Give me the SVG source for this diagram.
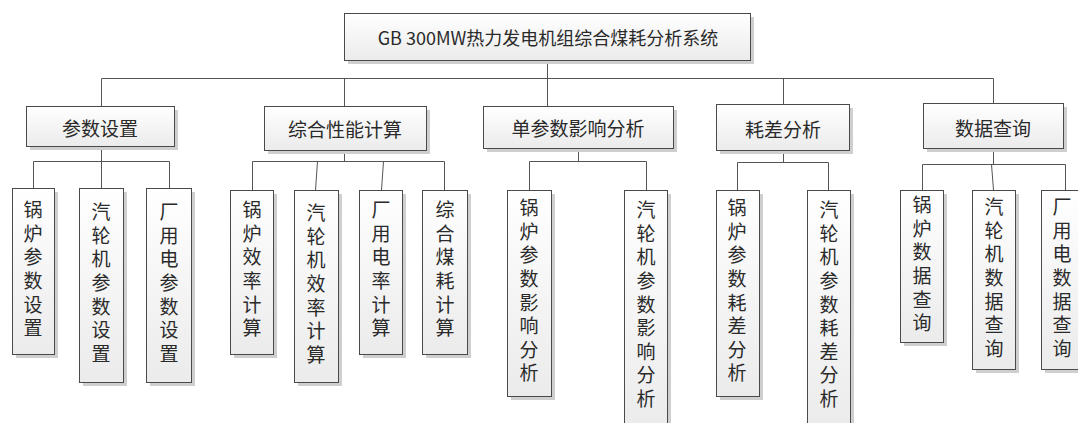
<svg xmlns="http://www.w3.org/2000/svg" width="1078" height="423" viewBox="0 0 1078 423">
<style>
.box{fill:url(#g);stroke:#4a4a4a;stroke-width:1}
.sh{fill:#cfcfcf}
.t{font-family:"Noto Sans CJK SC","Liberation Sans",sans-serif;fill:#2a2a2a;text-anchor:middle;dominant-baseline:central}
.t1{font-size:18px}
.t2{font-size:19px}
.v{font-family:"Noto Sans CJK SC","Liberation Sans",sans-serif;fill:#2a2a2a;font-size:19px;writing-mode:vertical-rl;text-anchor:start;letter-spacing:4.6px}
.c{fill:none;stroke:#555;stroke-width:1}
</style>
<defs>
<linearGradient id="g" x1="0" y1="0" x2="0" y2="1">
<stop offset="0" stop-color="#ffffff"/>
<stop offset="1" stop-color="#ebebeb"/>
</linearGradient>
</defs>
<rect width="1078" height="423" fill="#ffffff"/>
<g id="connectors">
<path class="c" d="M547.5 60V78.5M101.5 78.5H993.5M101.5 78.5V106M344.5 78.5V106M547.5 78.5V106M783.5 78.5V104M993.5 78.5V103"/>
<path class="c" d="M101.5 146V161.5M33.5 161.5H169.5M33.5 161.5V188M101.5 161.5V188M169.5 161.5V188"/>
<path class="c" d="M344.5 150V161.5M252.5 161.5H444.5M252.5 161.5V190M317.5 161.5L315.5 190M383.5 161.5L381.5 190M444.5 161.5V190"/>
<path class="c" d="M578.5 148V161.5M529.5 161.5H646.5M529.5 161.5V190M646.5 161.5V190"/>
<path class="c" d="M783.5 150V162.5M737.5 162.5H828.5M737.5 162.5V190M828.5 162.5V190"/>
<path class="c" d="M993.5 148V164.5M922.5 164.5H1065.5M922.5 164.5V190M991.5 164.5L993.5 190M1065.5 164.5V190"/>
</g>
<g id="root">
<rect class="sh" x="348" y="17" width="406" height="47"/>
<rect class="box" x="344.5" y="13.5" width="406" height="47"/>
<text class="t t1" x="548" y="37">GB 300MW热力发电机组综合煤耗分析系统</text>
</g>
<g id="n1">
<rect class="sh" x="30" y="110" width="148" height="40"/>
<rect class="box" x="26.5" y="106.5" width="148" height="40"/>
<text class="t t2" x="100" y="127">参数设置</text>
</g>
<g id="n2">
<rect class="sh" x="268" y="110" width="162" height="44"/>
<rect class="box" x="264.5" y="106.5" width="162" height="44"/>
<text class="t t2" x="345" y="128">综合性能计算</text>
</g>
<g id="n3">
<rect class="sh" x="487" y="110" width="190" height="42"/>
<rect class="box" x="483.5" y="106.5" width="190" height="42"/>
<text class="t t2" x="578" y="127">单参数影响分析</text>
</g>
<g id="n4">
<rect class="sh" x="720" y="108" width="133" height="46"/>
<rect class="box" x="716.5" y="104.5" width="133" height="46"/>
<text class="t t2" x="783" y="128">耗差分析</text>
</g>
<g id="n5">
<rect class="sh" x="927" y="107" width="140" height="45"/>
<rect class="box" x="923.5" y="103.5" width="140" height="45"/>
<text class="t t2" x="993" y="127">数据查询</text>
</g>
<g id="n1a">
<rect class="sh" x="16" y="192" width="42" height="166"/>
<rect class="box" x="12.5" y="188.5" width="42" height="166"/>
<text class="v" x="33" y="200.5">锅炉参数设置</text>
</g>
<g id="n1b">
<rect class="sh" x="83" y="192" width="44" height="194"/>
<rect class="box" x="79.5" y="188.5" width="44" height="194"/>
<text class="v" x="101" y="202.5">汽轮机参数设置</text>
</g>
<g id="n1c">
<rect class="sh" x="150" y="192" width="45" height="194"/>
<rect class="box" x="146.5" y="188.5" width="45" height="194"/>
<text class="v" x="169" y="202.5">厂用电参数设置</text>
</g>
<g id="n2a">
<rect class="sh" x="234" y="194" width="43" height="164"/>
<rect class="box" x="230.5" y="190.5" width="43" height="164"/>
<text class="v" x="252" y="200.5">锅炉效率计算</text>
</g>
<g id="n2b">
<rect class="sh" x="298" y="194" width="44" height="192"/>
<rect class="box" x="294.5" y="190.5" width="44" height="192"/>
<text class="v" x="316" y="203.5">汽轮机效率计算</text>
</g>
<g id="n2c">
<rect class="sh" x="363" y="194" width="43" height="164"/>
<rect class="box" x="359.5" y="190.5" width="43" height="164"/>
<text class="v" x="381" y="200.5">厂用电率计算</text>
</g>
<g id="n2d">
<rect class="sh" x="426" y="194" width="45" height="164"/>
<rect class="box" x="422.5" y="190.5" width="45" height="164"/>
<text class="v" x="445" y="200.5">综合煤耗计算</text>
</g>
<g id="n3a">
<rect class="sh" x="511" y="194" width="44" height="206"/>
<rect class="box" x="507.5" y="190.5" width="44" height="206"/>
<text class="v" x="529" y="198.5">锅炉参数影响分析</text>
</g>
<g id="n3b">
<rect class="sh" x="628" y="194" width="43" height="240"/>
<rect class="box" x="624.5" y="190.5" width="43" height="240"/>
<text class="v" x="646" y="200.5">汽轮机参数影响分析</text>
</g>
<g id="n4a">
<rect class="sh" x="720" y="194" width="43" height="206"/>
<rect class="box" x="716.5" y="190.5" width="43" height="206"/>
<text class="v" x="737" y="198.5">锅炉参数耗差分析</text>
</g>
<g id="n4b">
<rect class="sh" x="811" y="194" width="43" height="240"/>
<rect class="box" x="807.5" y="190.5" width="43" height="240"/>
<text class="v" x="829" y="200.5">汽轮机参数耗差分析</text>
</g>
<g id="n5a">
<rect class="sh" x="904" y="194" width="43" height="152"/>
<rect class="box" x="900.5" y="190.5" width="43" height="152"/>
<text class="v" x="922" y="195.5">锅炉数据查询</text>
</g>
<g id="n5b">
<rect class="sh" x="976" y="194" width="43" height="179"/>
<rect class="box" x="972.5" y="190.5" width="43" height="179"/>
<text class="v" x="994" y="197.5">汽轮机数据查询</text>
</g>
<g id="n5c">
<rect class="sh" x="1045" y="194" width="43" height="179"/>
<rect class="box" x="1041.5" y="190.5" width="43" height="179"/>
<text class="v" x="1062" y="197.5">厂用电数据查询</text>
</g>
</svg>
